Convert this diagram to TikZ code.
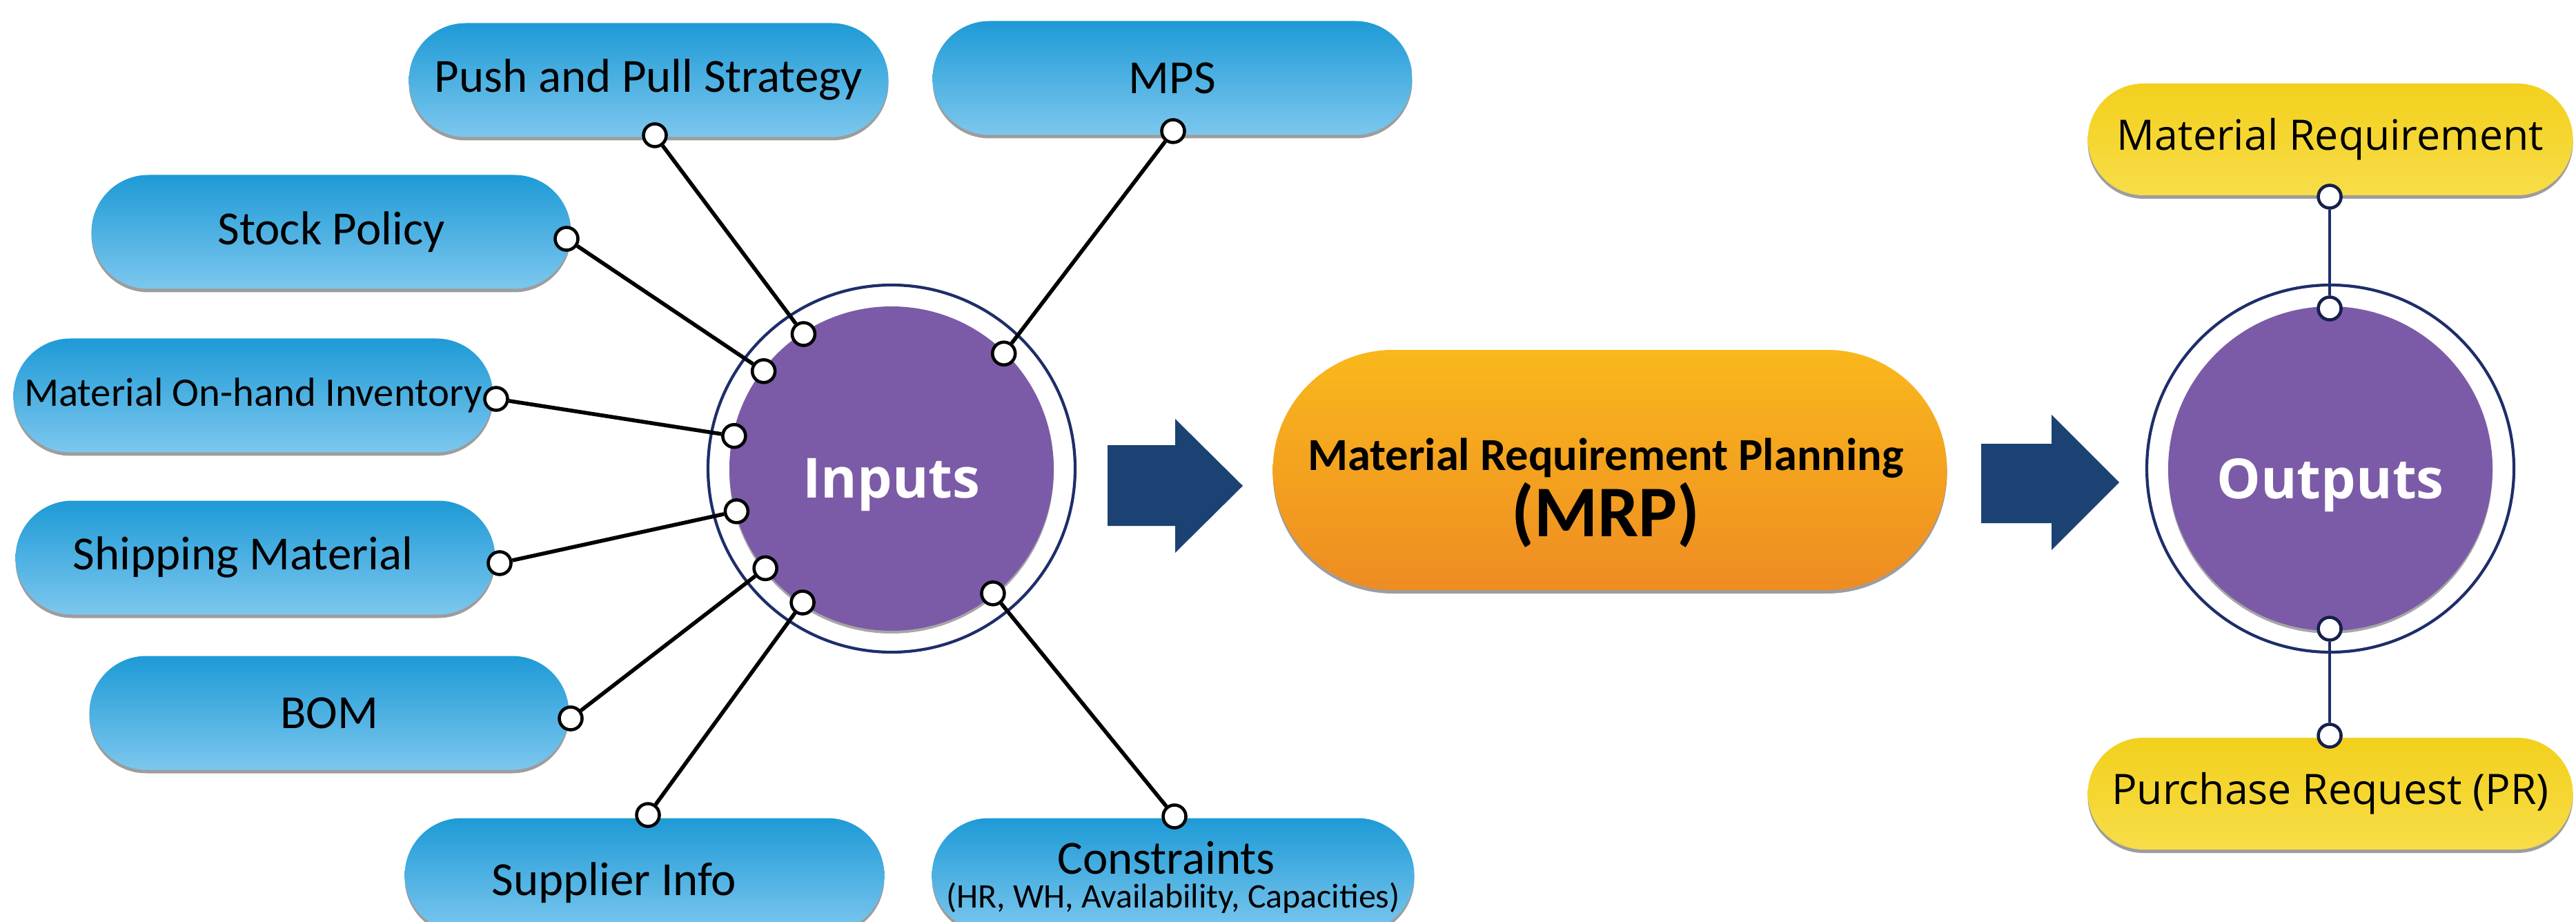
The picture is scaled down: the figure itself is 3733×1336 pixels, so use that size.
\documentclass[tikz,border=0pt]{standalone}
\usepackage{fontspec}
\setmainfont{Carlito}
\newfontfamily\osans{Open Sans}
\usetikzlibrary{calc,shadows}
\definecolor{bluetop}{HTML}{1E9AD6}
\definecolor{bluebot}{HTML}{7CC7EE}
\definecolor{purp}{HTML}{7B5BA7}
\definecolor{navy}{HTML}{1E2E6A}
\definecolor{arrowc}{HTML}{1B4273}
\definecolor{orgtop}{HTML}{F9B81C}
\definecolor{orgbot}{HTML}{EE8C22}
\definecolor{yeltop}{HTML}{F3D01C}
\definecolor{yelbot}{HTML}{F7DD48}
\begin{document}
\begin{tikzpicture}[x=0.1mm,y=-0.1mm,
  pillshadow/.style={drop shadow={shadow xshift=0mm,shadow yshift=-0.5mm,opacity=0.45,fill=black!85}},
  bluepill/.style={rectangle,rounded corners=8.25mm,minimum width=69.5mm,minimum height=16.5mm,
    inner sep=0pt,top color=bluetop,bottom color=bluebot,pillshadow,align=center,
    font=\fontsize{19.6pt}{23pt}\selectfont},
  pilltxt/.style={font=\fontsize{19.6pt}{23pt}\selectfont,inner sep=0pt},
  yelpill/.style={rectangle,rounded corners=8.1mm,minimum width=70.3mm,minimum height=16.2mm,
    inner sep=0pt,top color=yeltop,bottom color=yelbot,pillshadow,
    font=\osans\fontsize{17.3pt}{21pt}\selectfont},
  orgpill/.style={rectangle,rounded corners=17.4mm,minimum width=97.7mm,minimum height=34.8mm,
    inner sep=0pt,top color=orgtop,bottom color=orgbot,pillshadow},
  ring/.style={circle,draw=navy,line width=1.2pt,fill=white,minimum size=53.2mm,inner sep=0pt},
  core/.style={circle,fill=purp,minimum size=47mm,inner sep=0pt,
    drop shadow={shadow xshift=0mm,shadow yshift=-0.4mm,opacity=0.35,fill=black}},
  bigtxt/.style={text=white,font=\osans\bfseries\fontsize{22.8pt}{26pt}\selectfont,inner sep=0pt},
  dot/.style={circle,fill=white,draw=black,line width=1.3pt,minimum size=3.3mm,inner sep=0pt},
  odot/.style={dot,draw=navy!70!black},
  link/.style={black,line width=1.6pt},
  olink/.style={navy,line width=0.9pt}]
\clip (0,0) rectangle (3733,1336);
\fill[white] (0,0) rectangle (3733,1336);

% block arrows
\fill[arrowc] (1605,645) -- (1703,645) -- (1703,607) -- (1801,704) -- (1703,801) -- (1703,762) -- (1605,762) -- cycle;
\fill[arrowc] (2871,643) -- (2973,643) -- (2973,601) -- (3071,699) -- (2973,797) -- (2973,758) -- (2871,758) -- cycle;

% inputs circle
\node[ring] (inR) at (1292,679) {};
\node[core] (inC) at (1292,679) {};
\node[bigtxt] (inT) at (1292,703) {Inputs};

% MRP
\node[orgpill] (mrp) at (2333,681) {};
\node[font=\bfseries\fontsize{18.9pt}{22pt}\selectfont,inner sep=0pt] (mrpA) at (2327,664) {Material Requirement Planning};
\node[font=\bfseries\fontsize{30pt}{34pt}\selectfont,inner sep=0pt] (mrpB) at (2327,746) {(MRP)};

% outputs circle
\node[ring] (outR) at (3377,679) {};
\node[core] (outC) at (3377,679) {};
\node[bigtxt] (outT) at (3377,703) {Outputs};

% input pills
\node[bluepill] (push) at (940,116) {Push and Pull Strategy};
\node[bluepill] (mps) at (1699,113) {MPS};
\node[bluepill] (stock) at (480,336) {Stock Policy};
\node[bluepill,font=\fontsize{16.7pt}{19pt}\selectfont] (inv) at (367,573) {Material On-hand Inventory};
\node[bluepill] (ship) at (370,808) {};
\node[pilltxt] (shipT) at (352,808) {Shipping Material};
\node[bluepill] (bom) at (477,1033) {BOM};
\node[bluepill] (supp) at (934,1268) {};
\node[pilltxt] (suppT) at (890,1279) {Supplier Info};
\node[bluepill,minimum width=69.9mm] (cons) at (1700,1268) {};
\node[pilltxt] (consA) at (1690,1243) {Constraints};
\node[font=\fontsize{14.2pt}{16pt}\selectfont,inner sep=0pt] (consB) at (1700,1301) {(HR, WH, Availability, Capacities)};

% output pills
\node[yelpill] (mreq) at (3377,202) {Material Requirement};
\node[yelpill] (preq) at (3377,1150) {Purchase Request (PR)};

% dots on pills
\node[dot] (pPush) at (949,196) {};
\node[dot] (pMps) at (1700,190) {};
\node[dot] (pStock) at (821,346) {};
\node[dot] (pInv) at (719,578) {};
\node[dot] (pShip) at (724,816) {};
\node[dot] (pBom) at (827,1041) {};
\node[dot] (pSupp) at (939,1181) {};
\node[dot] (pCons) at (1702,1183) {};

% dots on inputs circle
\node[dot] (cPush) at ($(inC.center)+(-123.2:233)$) {};
\node[dot] (cMps) at ($(inC.center)+(-45.7:233)$) {};
\node[dot] (cStock) at ($(inC.center)+(-142.7:233)$) {};
\node[dot] (cInv) at ($(inC.center)+(-168.3:233)$) {};
\node[dot] (cShip) at ($(inC.center)+(164.6:233)$) {};
\node[dot] (cBom) at ($(inC.center)+(141.7:233)$) {};
\node[dot] (cSupp) at ($(inC.center)+(123.6:233)$) {};
\node[dot] (cCons) at ($(inC.center)+(50.9:233)$) {};

\draw[link] (pPush) -- (cPush);
\draw[link] (pMps) -- (cMps);
\draw[link] (pStock) -- (cStock);
\draw[link] (pInv) -- (cInv);
\draw[link] (pShip) -- (cShip);
\draw[link] (pBom) -- (cBom);
\draw[link] (pSupp) -- (cSupp);
\draw[link] (pCons) -- (cCons);

% outputs dots
\node[odot] (pMreq) at (3376,285) {};
\node[odot] (cTop) at (3376,447) {};
\node[odot] (cBot) at (3376,911) {};
\node[odot] (pPreq) at (3376,1066) {};
\draw[olink] (pMreq) -- (cTop);
\draw[olink] (cBot) -- (pPreq);
\end{tikzpicture}
\end{document}
